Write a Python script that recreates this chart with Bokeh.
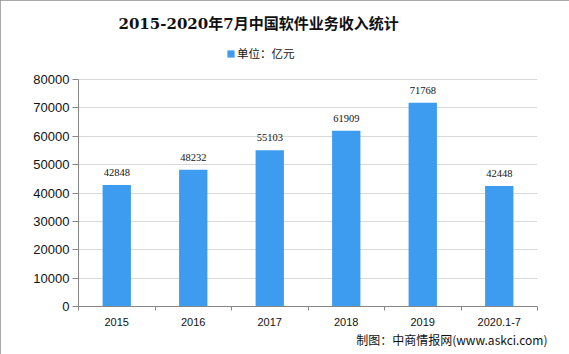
from bokeh.plotting import figure
from bokeh.models import (ColumnDataSource, FixedTicker, LinearAxis, Title,
                          Legend, LegendItem, Range1d, Grid, Label)
from bokeh.embed import file_html
from bokeh.resources import INLINE

categories = ["2015", "2016", "2017", "2018", "2019", "2020.1-7"]
values = [42848, 48232, 55103, 61909, 71768, 42448]
y_ticks = [0, 10000, 20000, 30000, 40000, 50000, 60000, 70000, 80000]
title_text = "2015-2020年7月中国软件业务收入统计"
legend_text = "单位：亿元"
source_text = "制图：中商情报网(www.askci.com)"

W, H = 569, 354
BAR = "#3d9cf0"
Y_MAX = 80000
# frame is stretched up to near the top edge so the title and legend can sit
# inside it; the visible axis area stops at Y_MAX
FRAME_TOP, AXIS_TOP, AXIS_BOTTOM = 4, 79, 306
y_end = Y_MAX * (AXIS_BOTTOM - FRAME_TOP) / (AXIS_BOTTOM - AXIS_TOP)

xs = [i + 0.5 for i in range(len(categories))]
src = ColumnDataSource(dict(x=xs, top=values, lab=[str(v) for v in values]))

p = figure(width=W, height=H, output_backend="svg", toolbar_location=None,
           x_range=Range1d(0, len(categories)), y_range=Range1d(0, y_end),
           min_border_left=78, min_border_right=32, min_border_top=FRAME_TOP,
           min_border_bottom=H - AXIS_BOTTOM, x_axis_location=None,
           y_axis_location=None)
p.outline_line_color = None
p.background_fill_color = "white"
p.border_fill_color = "white"
p.styles = {"outline": "1px solid #8c8c8c", "outline-offset": "-1px"}

r = p.vbar(x="x", top="top", width=0.37, source=src, fill_color=BAR,
           line_color=None)
p.text(x="x", y="top", text="lab", source=src, text_align="center",
       text_baseline="bottom", y_offset=-9, text_font_size="10.5px",
       text_color="#111111", text_font="Liberation Sans")

# y axis
ya = LinearAxis(ticker=FixedTicker(ticks=y_ticks), bounds=(0, Y_MAX))
ya.axis_line_color = "#868686"
ya.major_tick_line_color = "#868686"
ya.major_tick_out = 6
ya.major_tick_in = 0
ya.minor_tick_line_color = None
ya.major_label_standoff = 3
ya.major_label_text_font_size = "13px"
ya.major_label_text_font = "Liberation Sans"
ya.major_label_text_color = "#111111"
p.add_layout(ya, "left")

# x axis: labels at centres, short ticks at category boundaries
xa = LinearAxis(ticker=FixedTicker(ticks=xs,
                                   minor_ticks=list(range(len(categories) + 1))),
                major_label_overrides={x: c for x, c in zip(xs, categories)})
xa.axis_line_color = "#868686"
xa.major_tick_line_color = None
xa.major_tick_out = 0
xa.minor_tick_line_color = "#868686"
xa.minor_tick_out = 4
xa.minor_tick_in = 0
xa.major_label_standoff = 7
xa.major_label_text_font_size = "11px"
xa.major_label_text_font = "Liberation Sans"
xa.major_label_text_color = "#111111"
p.add_layout(xa, "below")

p.ygrid.visible = False
p.xgrid.visible = False
p.add_layout(Grid(dimension=1, ticker=ya.ticker, grid_line_color="#d9d9d9"))

# legend (screen offsets from the frame's bottom-left)
leg = Legend(items=[LegendItem(label=legend_text, renderers=[r])],
             location=(148, 245), orientation="horizontal",
             glyph_width=9, glyph_height=9, label_text_font_size="11.5px",
             label_text_font="Noto Sans CJK SC", label_standoff=2,
             label_height=12, padding=0, margin=0, border_line_color=None,
             background_fill_alpha=0, label_text_color="#111111")
p.add_layout(leg, "center")

p.add_layout(Label(x=40, y=AXIS_BOTTOM - 23, x_units="screen",
                   y_units="screen", text=title_text, text_align="left",
                   text_baseline="middle", text_font_size="15px",
                   text_font_style="bold",
                   text_font="DejaVu Serif, Noto Sans CJK SC",
                   text_color="#111111"))

p.add_layout(Title(text=source_text, align="right", offset=-10,
                   text_font_size="12px", text_font_style="normal",
                   text_font="Noto Sans CJK SC", text_color="#111111",
                   standoff=0), "below")

open("out.html", "w").write(file_html(p, INLINE))
